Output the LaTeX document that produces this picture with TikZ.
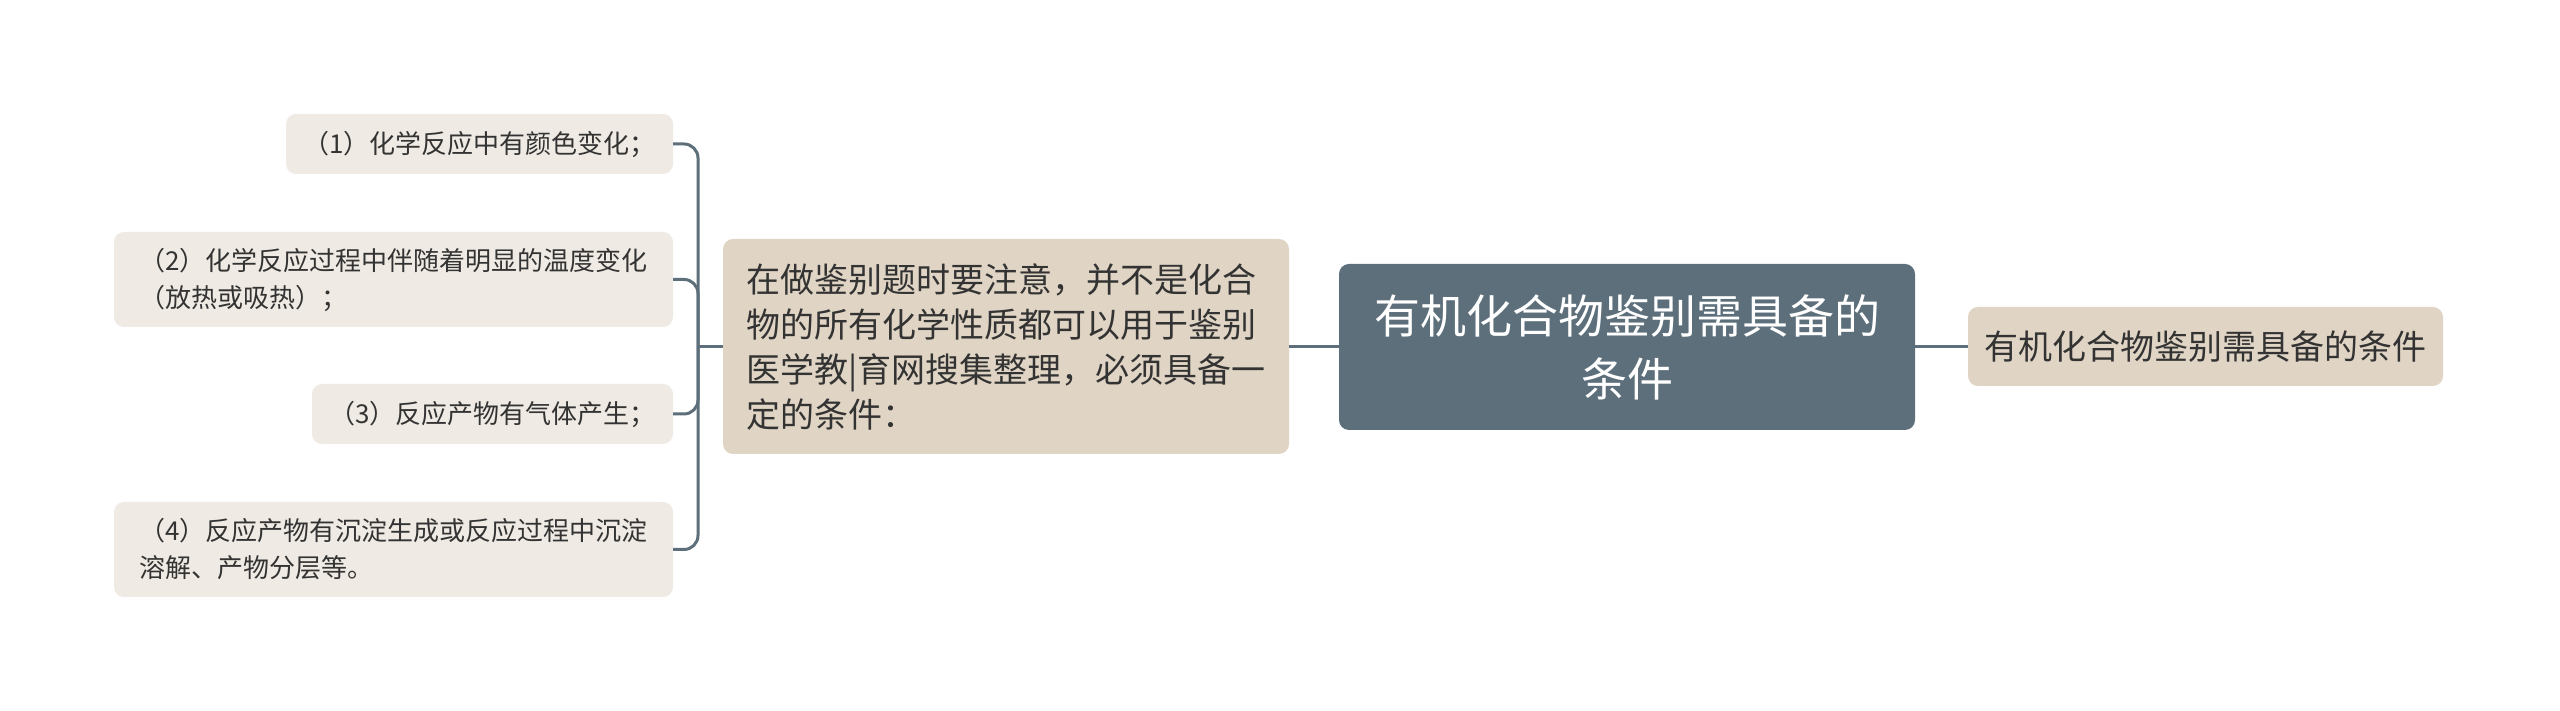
\documentclass[tikz,border=0pt]{standalone}
\usepackage{fontspec}
\setmainfont{Noto Sans CJK SC}
\definecolor{leafc}{HTML}{EFEBE4}
\definecolor{midc}{HTML}{E0D5C5}
\definecolor{rootc}{HTML}{5C6F7B}
\definecolor{linec}{HTML}{5C6F7B}
\definecolor{txt}{HTML}{333333}
\begin{document}
\begin{tikzpicture}[x=1pt,y=1pt,
  leaf/.style={fill=leafc, rounded corners=10pt, inner sep=0pt, text=txt,
    font=\fontsize{26}{37}\selectfont, align=left},
  midbox/.style={fill=midc, rounded corners=10pt, inner sep=0pt, text=txt,
    font=\fontsize{34}{45}\selectfont, align=left},
  rootbox/.style={fill=rootc, rounded corners=10pt, inner sep=0pt, text=white,
    font=\fontsize{46}{63}\selectfont, align=center},
  rightbox/.style={fill=midc, rounded corners=10pt, inner sep=0pt, text=txt,
    font=\fontsize{34}{40}\selectfont, align=center},
  conn/.style={draw=linec, line width=3pt},
  brconn/.style={draw=linec, line width=3pt, rounded corners=14pt}
]
\useasboundingbox (0,0) rectangle (2560,711);
\fill[white] (0,0) rectangle (2560,711);

\node[leaf, minimum width=387pt, minimum height=60pt] (n1) at (479.5,567) {（1）化学反应中有颜色变化；};
\node[leaf, minimum width=559pt, minimum height=95pt] (n2) at (393.5,431.5) {（2）化学反应过程中伴随着明显的温度变化\\（放热或吸热）；};
\node[leaf, minimum width=361pt, minimum height=60pt] (n3) at (492.5,297) {（3）反应产物有气体产生；};
\node[leaf, minimum width=559pt, minimum height=95pt] (n4) at (393.5,161.5) {（4）反应产物有沉淀生成或反应过程中沉淀\\溶解、产物分层等。};

\node[midbox, minimum width=566pt, minimum height=215pt] (mid) at (1006,364.5) {在做鉴别题时要注意，并不是化合\\物的所有化学性质都可以用于鉴别\\医学教|育网搜集整理，必须具备一\\定的条件：};

\node[rootbox, minimum width=576pt, minimum height=166pt] (root) at (1627,364) {有机化合物鉴别需具备的\\条件};

\node[rightbox, minimum width=475pt, minimum height=79pt] (right) at (2205.5,364.5) {有机化合物鉴别需具备的条件};

\coordinate (j) at (698,364);
\draw[conn] (mid.west |- j) -- (j);
\draw[brconn] (j) -- (j |- n1.east) -- (n1.east);
\draw[brconn] (j) -- (j |- n2.east) -- (n2.east);
\draw[brconn] (j) -- (j |- n3.east) -- (n3.east);
\draw[brconn] (j) -- (j |- n4.east) -- (n4.east);
\draw[conn] (mid.east |- root.west) -- (root.west);
\draw[conn] (root.east) -- (right.west |- root.east);
\end{tikzpicture}
\end{document}
